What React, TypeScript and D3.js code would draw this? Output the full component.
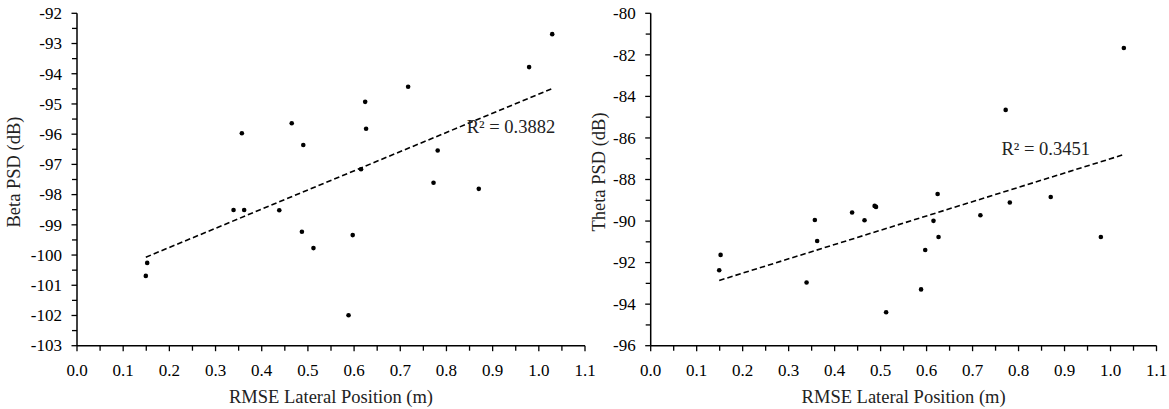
import * as d3 from "d3";

// RMSE lateral position (m), shared by both panels
const rmse = [0.149, 0.152, 0.339, 0.357, 0.362, 0.438, 0.465, 0.487, 0.49, 0.512, 0.588, 0.597, 0.615, 0.624, 0.626, 0.717, 0.772, 0.781, 0.87, 0.979, 1.029];
// PSD values (dB)
const betaPsd = [-100.69, -100.26, -98.51, -95.97, -98.51, -98.52, -95.64, -99.23, -96.36, -99.77, -101.99, -99.34, -97.16, -94.93, -95.82, -94.43, -97.61, -96.54, -97.81, -93.78, -92.69];
const thetaPsd = [-92.37, -91.63, -92.96, -89.95, -90.96, -89.59, -89.96, -89.27, -89.32, -94.39, -93.29, -91.39, -89.99, -88.7, -90.77, -89.72, -84.65, -89.11, -88.84, -90.77, -81.67];

const xTicks = [0, 0.1, 0.2, 0.3, 0.4, 0.5, 0.6, 0.7, 0.8, 0.9, 1.0, 1.1];
const betaTicks = [-92, -93, -94, -95, -96, -97, -98, -99, -100, -101, -102, -103];
const thetaTicks = [-80, -82, -84, -86, -88, -90, -92, -94, -96];

const FONT = "'Liberation Serif', 'Times New Roman', serif";
const TOP = 13.3;
const BOTTOM = 345.7;

function fit(xs: number[], ys: number[]) {
  const mx = d3.mean(xs)!;
  const my = d3.mean(ys)!;
  const sxy = d3.sum(xs, (x, i) => (x - mx) * (ys[i] - my));
  const sxx = d3.sum(xs, (x) => (x - mx) ** 2);
  const slope = sxy / sxx;
  return { slope, intercept: my - slope * mx };
}

function Panel({ left, right, ys, yTicks, yTitle, r2, r2At, titleX }) {
  const x = d3.scaleLinear([0, 1.1], [left, right]);
  const yMax = yTicks[0];
  const yMin = yTicks[yTicks.length - 1];
  const y = d3.scaleLinear([yMin, yMax], [BOTTOM, TOP]);
  const yStep = Math.abs(yTicks[1] - yTicks[0]);
  const yMinor = d3.range(yMin + yStep / 2, yMax, yStep);
  const xMinor = d3.range(0.05, 1.1, 0.1);
  const { slope, intercept } = fit(rmse, ys);
  const [x0, x1] = d3.extent(rmse) as [number, number];
  const trend = d3.line<number>().x((d) => x(d)).y((d) => y(intercept + slope * d));

  return (
    <g fontFamily={FONT} fill="#000">
      <line x1={left} x2={left} y1={TOP} y2={BOTTOM} stroke="#000" strokeWidth={1.5} />
      <line x1={left} x2={right} y1={BOTTOM} y2={BOTTOM} stroke="#000" strokeWidth={1.5} />
      {yTicks.map((t) => (
        <g key={t}>
          <line x1={left - 5.5} x2={left} y1={y(t)} y2={y(t)} stroke="#000" strokeWidth={1.3} />
          <text x={left - 15} y={y(t)} dy="0.34em" textAnchor="end" fontSize={17}>
            {t}
          </text>
        </g>
      ))}
      {yMinor.map((t) => (
        <line key={t} x1={left - 5} x2={left} y1={y(t)} y2={y(t)} stroke="#000" strokeWidth={1.3} />
      ))}
      {xTicks.map((t) => (
        <g key={t}>
          <line x1={x(t)} x2={x(t)} y1={BOTTOM} y2={BOTTOM + 5.5} stroke="#000" strokeWidth={1.3} />
          <text x={x(t)} y={376} textAnchor="middle" fontSize={17}>
            {t.toFixed(1)}
          </text>
        </g>
      ))}
      {xMinor.map((t) => (
        <line key={t} x1={x(t)} x2={x(t)} y1={BOTTOM} y2={BOTTOM + 5} stroke="#000" strokeWidth={1.3} />
      ))}
      <text x={(left + right) / 2} y={403} textAnchor="middle" fontSize={18.5} fill="#222">
        RMSE Lateral Position (m)
      </text>
      <text
        transform={`translate(${titleX},172) rotate(-90)`}
        dy="0.34em"
        textAnchor="middle"
        fontSize={18.5}
        fill="#222"
      >
        {yTitle}
      </text>
      <path d={trend([x0, x1])!} fill="none" stroke="#000" strokeWidth={1.6} strokeDasharray="5.5,3" />
      {rmse.map((v, i) => (
        <circle key={i} cx={x(v)} cy={y(ys[i])} r={2.3} fill="#000" />
      ))}
      <text x={x(r2At[0])} y={y(r2At[1])} fontSize={18.5} fill="#222">
        {r2}
      </text>
    </g>
  );
}

export default function App() {
  return (
    <div style={{ position: "fixed", left: 0, top: 0 }}>
      <svg width={1169} height={409} style={{ display: "block", background: "#fff" }}>
        <Panel
          left={77}
          right={585}
          ys={betaPsd}
          yTicks={betaTicks}
          yTitle="Beta PSD (dB)"
          r2="R² = 0.3882"
          r2At={[0.844, -95.97]}
          titleX={14}
        />
        <Panel
          left={650.7}
          right={1156.5}
          ys={thetaPsd}
          yTicks={thetaTicks}
          yTitle="Theta PSD (dB)"
          r2="R² = 0.3451"
          r2At={[0.763, -86.82]}
          titleX={599}
        />
      </svg>
    </div>
  );
}
